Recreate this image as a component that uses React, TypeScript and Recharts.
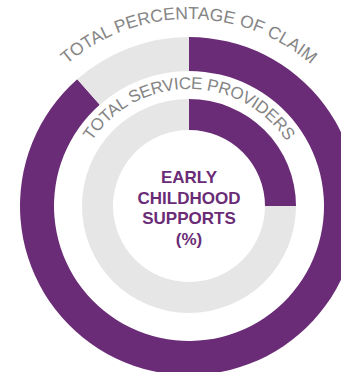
import React from 'react';
import { PieChart, Pie, Cell, Customized } from 'recharts';

// values (percent)
const claimShare = [
  { name: 'Early Childhood Supports', value: 88.5 },
  { name: 'Other', value: 11.5 },
];
const providerShare = [
  { name: 'Early Childhood Supports', value: 25 },
  { name: 'Other', value: 75 },
];
const ringColors = ['#6a2c76', '#e6e6e6'];
const outerTitle = 'TOTAL PERCENTAGE OF CLAIM';
const innerTitle = 'TOTAL SERVICE PROVIDERS';
const centerLines = ['EARLY', 'CHILDHOOD', 'SUPPORTS', '(%)'];

const CX = 189;
const CY = 206;
const font = '"Liberation Sans", Arial, sans-serif';

// arc over the top, used as a path for the curved titles
const arcPath = (r: number, halfAngle: number) => {
  const a = (halfAngle * Math.PI) / 180;
  const x1 = CX - r * Math.sin(a);
  const y1 = CY - r * Math.cos(a);
  const x2 = CX + r * Math.sin(a);
  return `M ${x1} ${y1} A ${r} ${r} 0 0 1 ${x2} ${y1}`;
};

const Labels = () => (
  <g>
    <defs>
      <path id="outerArc" d={arcPath(187, 70)} />
      <path id="innerArc" d={arcPath(117, 80)} />
    </defs>
    <text fill="#858585" style={{ fontFamily: font, fontSize: 17.5, letterSpacing: 0 }}>
      <textPath href="#outerArc" startOffset="50%" textAnchor="middle">
        {outerTitle}
      </textPath>
    </text>
    <text fill="#858585" style={{ fontFamily: font, fontSize: 17, letterSpacing: -0.3 }}>
      <textPath href="#innerArc" startOffset="50%" textAnchor="middle">
        {innerTitle}
      </textPath>
    </text>
    {centerLines.map((line, i) => (
      <text
        key={line}
        x={CX}
        y={183 + i * 20.5}
        textAnchor="middle"
        fill="#6a2c76"
        style={{ fontFamily: font, fontSize: 17, fontWeight: 'bold' }}
      >
        {line}
      </text>
    ))}
  </g>
);

export default function App() {
  return (
    <div style={{ position: 'absolute', left: 0, top: 0 }}>
      <PieChart width={341} height={372} margin={{ top: 0, right: 0, bottom: 0, left: 0 }}>
        <Pie
          data={claimShare}
          dataKey="value"
          cx={CX}
          cy={CY}
          innerRadius={135}
          outerRadius={169}
          startAngle={90}
          endAngle={-270}
          stroke="none"
          isAnimationActive={false}
        >
          {claimShare.map((d, i) => (
            <Cell key={d.name} fill={ringColors[i]} />
          ))}
        </Pie>
        <Pie
          data={providerShare}
          dataKey="value"
          cx={CX}
          cy={CY}
          innerRadius={76}
          outerRadius={107}
          startAngle={90}
          endAngle={-270}
          stroke="none"
          isAnimationActive={false}
        >
          {providerShare.map((d, i) => (
            <Cell key={d.name} fill={ringColors[i]} />
          ))}
        </Pie>
        <Customized component={Labels} />
      </PieChart>
    </div>
  );
}
